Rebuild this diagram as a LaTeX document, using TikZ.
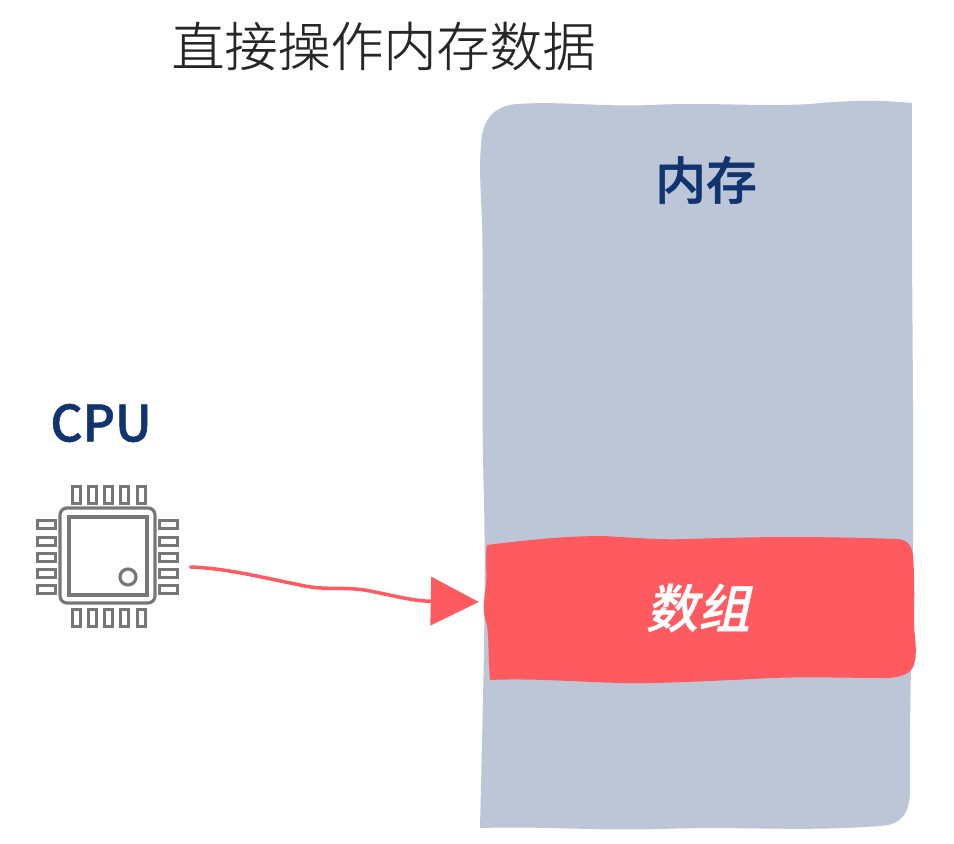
\documentclass[tikz,border=0pt]{standalone}
\usepackage{fontspec}
\usetikzlibrary{arrows.meta,calc}
\newfontfamily\cjk[FakeBold=0.4]{Noto Sans CJK SC Light}
\newfontfamily\cjkbold[FakeBold=1.0]{Noto Sans CJK SC Medium}
\newfontfamily\cjkit[FakeSlant=0.22,FakeBold=0.8]{Noto Sans CJK SC Medium}
\definecolor{memfill}{HTML}{BCC6D6}
\definecolor{redfill}{HTML}{FF5A60}
\definecolor{navy}{HTML}{0F3470}
\definecolor{titlec}{HTML}{262626}
\definecolor{chipc}{HTML}{777777}
\tikzset{
  titletext/.style={text=titlec,font=\cjk\fontsize{53}{53}\selectfont,inner sep=0pt},
  headtext/.style={text=navy,font=\cjkbold\fontsize{51}{51}\selectfont,inner sep=0pt},
  datatext/.style={text=white,font=\cjkit\fontsize{52}{52}\selectfont,inner sep=0pt,minimum width=430pt,minimum height=142pt},
  chipline/.style={draw=chipc,line width=3.2pt},
  pin/.style={draw=chipc,line width=3pt,fill=white},
  chipbox/.style={inner sep=0pt,minimum width=142pt,minimum height=142pt},
  redline/.style={draw=redfill,line width=3.5pt,line cap=round,-{Triangle[length=48pt,width=48pt]}}
}
\begin{document}
\begin{tikzpicture}[x=1pt,y=-1pt]
\useasboundingbox (0,0) rectangle (954,844);
% memory block
\fill[memfill] (518,104) .. controls (560,101) and (600,107) .. (650,105)
  .. controls (710,102) and (760,107) .. (810,104)
  .. controls (850,100) and (880,100) .. (912,103)
  .. controls (911,250) and (914,400) .. (913,540)
  .. controls (912,650) and (909,720) .. (910,790)
  .. controls (910,815) and (900,825) .. (880,826)
  .. controls (800,832) and (740,826) .. (660,829)
  .. controls (600,831) and (540,826) .. (480,828)
  .. controls (483,700) and (486,600) .. (484,500)
  .. controls (481,400) and (484,300) .. (482,220)
  .. controls (480,180) and (479,160) .. (482,135)
  .. controls (486,115) and (498,105) .. (518,104) -- cycle;
% array block
\fill[redfill] (487,545) .. controls (520,541) and (560,536) .. (603,536)
  .. controls (640,538) and (660,540) .. (687,539)
  .. controls (720,538) and (760,537) .. (787,537)
  .. controls (830,537) and (870,538) .. (898,539)
  .. controls (908,540) and (912,546) .. (913,556)
  .. controls (915,580) and (914,610) .. (914,625)
  .. controls (915,640) and (917,650) .. (915,660)
  .. controls (914,672) and (905,677) .. (887,678)
  .. controls (840,678) and (800,676) .. (753,679)
  .. controls (710,681) and (650,684) .. (620,683)
  .. controls (580,682) and (530,678) .. (490,680)
  .. controls (488,655) and (489,640) .. (487,625)
  .. controls (482,612) and (484,600) .. (486,585)
  .. controls (487,570) and (485,555) .. (487,545) -- cycle;
% texts
\node[titletext] (title) at (383.5,46) {直接操作内存数据};
\node[headtext] (mem) at (706,180) {内存};
\node[headtext,font=\cjkbold\fontsize{50}{50}\selectfont] (cpulabel) at (101,423) {CPU};
\node[datatext] (data) at (698,608) {数组};
% chip icon
\node[chipbox] (cpu) at (107.5,556) {};
\draw[chipline,rounded corners=7pt] (60,508) rectangle (155,603);
\draw[chipline] (69,517) rectangle (147,595);
\draw[chipline] (128,577) circle (8);
\foreach \p in {76,92,108,124,141}{
  \draw[pin] (\p-4,486) rectangle (\p+4,503);
  \draw[pin] (\p-4,609) rectangle (\p+4,626);
}
\foreach \p in {524,541,557,573,589}{
  \draw[pin] (37,\p-4) rectangle (55,\p+4);
  \draw[pin] (159,\p-4) rectangle (177,\p+4);
}
% connector
\coordinate (start) at ($(cpu.east)+(12,11)$);
\coordinate (tipend) at ($(data.west)+(-4,-6)$);
\draw[redline] (start) .. controls (225,568) and (265,578) .. (300,585)
  .. controls (325,591) and (345,586) .. (370,591)
  .. controls (395,596) and (410,600) .. (425,601) -- (tipend);
\end{tikzpicture}
\end{document}
